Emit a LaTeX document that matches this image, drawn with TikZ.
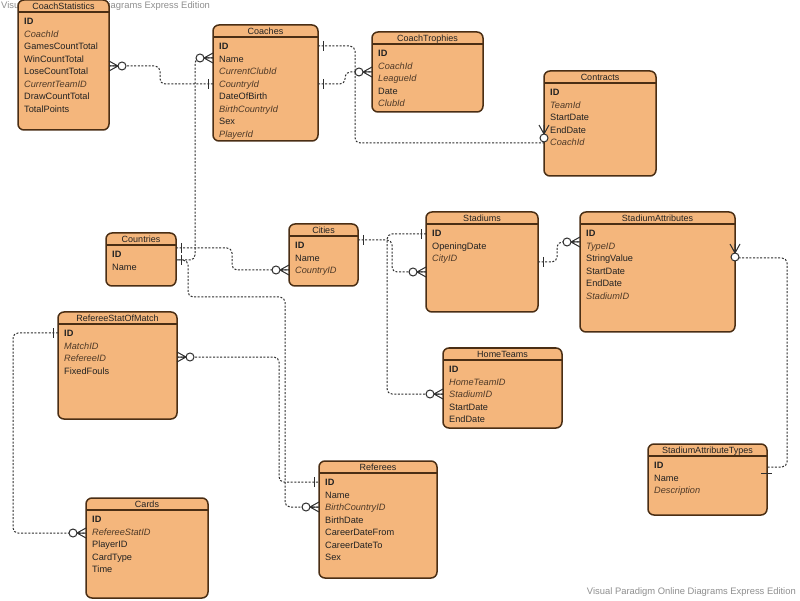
\documentclass[tikz,border=0pt]{standalone}
\usepackage{fontspec}
\setmainfont{Liberation Sans}
\usetikzlibrary{calc}
\definecolor{efill}{HTML}{F4B67C}
\definecolor{eborder}{HTML}{4A2E14}
\definecolor{ital}{HTML}{4F3A28}
\definecolor{txt}{HTML}{222222}
\definecolor{conn}{HTML}{2E2E2E}
\definecolor{wmc}{HTML}{8F8F8F}
\tikzset{
  ebox/.style={draw=eborder, fill=efill, line width=1.5pt, rounded corners=6pt, inner sep=0pt, outer sep=0pt, anchor=north west},
  eline/.style={draw=eborder, line width=1.1pt},
  etitle/.style={font=\fontsize{9}{10}\selectfont, text=txt, inner sep=0pt, anchor=base},
  fb/.style={font=\fontsize{9.2}{10}\selectfont\bfseries, text=txt, inner sep=0pt, anchor=base west},
  fn/.style={font=\fontsize{9.2}{10}\selectfont, text=txt, inner sep=0pt, anchor=base west},
  fi/.style={font=\fontsize{9.2}{10}\selectfont\itshape, text=ital, inner sep=0pt, anchor=base west},
  rel/.style={draw=conn, line width=1pt, dash pattern=on 2pt off 1.6pt, rounded corners=5pt},
  endl/.style={draw=conn, line width=1pt, solid},
  wmark/.style={text=wmc, font=\fontsize{9.4}{10}\selectfont, inner sep=0pt},
  many/.pic={\draw[endl] (0,-5) -- (9,0) -- (0,5) (0,0) -- (9,0); \draw[endl, fill=white] (13,0) circle (4pt);},
  one/.pic={\draw[endl] (5,-5) -- (5,5);},
}
\newcommand\entity[6]{%
  \node[ebox, minimum width=#4pt, minimum height=#5pt] (#1) at (#2,#3) {};
  \draw[eline] ($(#1.north west)+(0,12)$) -- ($(#1.north east)+(0,12)$);
  \node[etitle] (#1-t) at ($(#1.north)+(0,9.2)$) {#6};
}
\newcommand\rows[2]{%
  \foreach \ft/\fs [count=\i] in {#2} {
    \node[f\fs] (#1-\i) at ($(#1.north west)+(6,24.8+12.5*\i-12.5)$) {\ft};
  }
}
\begin{document}
\begin{tikzpicture}[x=1pt,y=-1pt]
\fill[white] (0,0) rectangle (800,601);
\useasboundingbox (0,0) rectangle (800,601);
\node[wmark, anchor=west] (wm1) at (1,6) {Visual Paradigm Online Diagrams Express Edition};
\node[wmark, anchor=east] (wm2) at (796,592) {Visual Paradigm Online Diagrams Express Edition};

\entity{cstat}{18}{0}{91}{130}{CoachStatistics}
\rows{cstat}{ID/b,CoachId/i,GamesCountTotal/n,WinCountTotal/n,LoseCountTotal/n,CurrentTeamID/i,DrawCountTotal/n,TotalPoints/n}
\entity{coaches}{213}{25}{105}{116}{Coaches}
\rows{coaches}{ID/b,Name/n,CurrentClubId/i,CountryId/i,DateOfBirth/n,BirthCountryId/i,Sex/n,PlayerId/i}
\entity{ctroph}{372}{32}{111}{80}{CoachTrophies}
\rows{ctroph}{ID/b,CoachId/i,LeagueId/i,Date/n,ClubId/i}
\entity{contracts}{544}{71}{112}{105}{Contracts}
\rows{contracts}{ID/b,TeamId/i,StartDate/n,EndDate/n,CoachId/i}
\entity{countries}{106}{233}{70}{53}{Countries}
\rows{countries}{ID/b,Name/n}
\entity{cities}{289}{224}{69}{62}{Cities}
\rows{cities}{ID/b,Name/n,CountryID/i}
\entity{stadiums}{426}{212}{112}{100}{Stadiums}
\rows{stadiums}{ID/b,OpeningDate/n,CityID/i}
\entity{sattr}{580}{212}{155}{120}{StadiumAttributes}
\rows{sattr}{ID/b,TypeID/i,StringValue/n,StartDate/n,EndDate/n,StadiumID/i}
\entity{refstat}{58}{312}{119}{107}{RefereeStatOfMatch}
\rows{refstat}{ID/b,MatchID/i,RefereeID/i,FixedFouls/n}
\entity{hometeams}{443}{348}{119}{80}{HomeTeams}
\rows{hometeams}{ID/b,HomeTeamID/i,StadiumID/i,StartDate/n,EndDate/n}
\entity{referees}{319}{461}{118}{117}{Referees}
\rows{referees}{ID/b,Name/n,BirthCountryID/i,BirthDate/n,CareerDateFrom/n,CareerDateTo/n,Sex/n}
\entity{cards}{86}{498}{122}{100}{Cards}
\rows{cards}{ID/b,RefereeStatID/i,PlayerID/n,CardType/n,Time/n}
\entity{satypes}{648}{444}{119}{71}{StadiumAttributeTypes}
\rows{satypes}{ID/b,Name/n,Description/i}

% connectors
\draw[rel] (cstat.east |- 0,66) -- (160,66) -- (160,84) -- (coaches.west |- 0,84);
\draw[rel] (coaches.west |- 0,58) -| (195,200) |- (countries.east |- 0,260);
\draw[rel] (countries.east |- 0,248) -- (232,248) -- (232,270) -- (cities.west |- 0,270);
\draw[rel] (countries.east |- 0,260) -- (188,260) -- (188,297) -- (285,297) -- (285,400) |- (referees.west |- 0,507);
\draw[rel] (refstat.east |- 0,357) -| (279,420) |- (referees.west |- 0,482);
\draw[rel] (refstat.west |- 0,333) -| (13,450) |- (cards.west |- 0,533);
\draw[rel] (coaches.east |- 0,46) -| (355,100) |- (contracts.west |- 0,143);
\draw[rel] (coaches.east |- 0,84) -- (345,84) -- (345,72) -- (ctroph.west |- 0,72);
\draw[rel] (cities.east |- 0,240) -- (392,240) -- (392,272) -- (stadiums.west |- 0,272);
\draw[rel] (stadiums.west |- 0,234) -| (387,300) |- (hometeams.west |- 0,394);
\draw[rel] (stadiums.east |- 0,262) -- (557,262) -- (557,242) -- (sattr.west |- 0,242);
\draw[rel] (sattr.east |- 0,258) -| (787,400) |- (satypes.east |- 0,467);

% ends: one
\pic[rotate=180] at (coaches.west |- 0,84) {one};
\pic at (countries.east |- 0,248) {one};
\pic at (countries.east |- 0,260) {one};
\pic[rotate=180] at (referees.west |- 0,482) {one};
\pic[rotate=180] at (refstat.west |- 0,333) {one};
\pic at (coaches.east |- 0,46) {one};
\pic at (coaches.east |- 0,84) {one};
\pic at (cities.east |- 0,240) {one};
\pic[rotate=180] at (stadiums.west |- 0,234) {one};
\pic at (stadiums.east |- 0,262) {one};
\draw[endl] (satypes.east |- 0,473) ++(-6,0) -- ++(11,0);

% ends: many
\pic at (cstat.east |- 0,66) {many};
\pic[rotate=180] at (coaches.west |- 0,58) {many};
\pic[rotate=180] at (cities.west |- 0,270) {many};
\pic[rotate=180] at (referees.west |- 0,507) {many};
\pic at (refstat.east |- 0,357) {many};
\pic[rotate=180] at (cards.west |- 0,533) {many};
\pic[rotate=-90] at (contracts.west |- 0,125) {many};
\pic[rotate=180] at (ctroph.west |- 0,72) {many};
\pic[rotate=180] at (stadiums.west |- 0,272) {many};
\pic[rotate=180] at (hometeams.west |- 0,394) {many};
\pic[rotate=180] at (sattr.west |- 0,242) {many};
\pic[rotate=-90] at (sattr.east |- 0,244) {many};
\end{tikzpicture}
\end{document}
